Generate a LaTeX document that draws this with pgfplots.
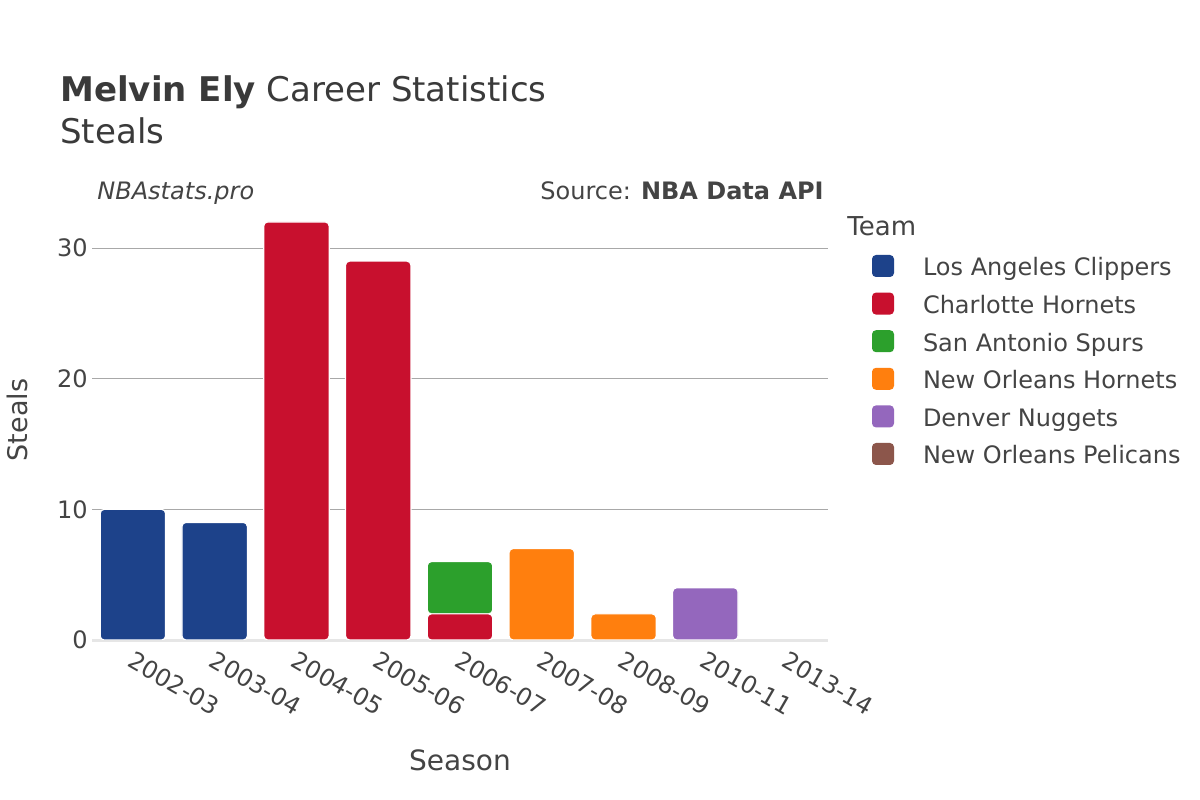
\documentclass[border=0pt]{standalone}
\usepackage{fontspec}
\setmainfont{DejaVu Sans}
\usepackage{pgfplots}
\usepackage{pgfplotstable}
\pgfplotsset{compat=1.18}
\definecolor{lac}{HTML}{1D428A}
\definecolor{cha}{HTML}{C8102E}
\definecolor{sas}{HTML}{2CA02C}
\definecolor{noh}{HTML}{FF7F0E}
\definecolor{den}{HTML}{9467BD}
\definecolor{nop}{HTML}{8C564B}
\definecolor{txt}{HTML}{444444}
\definecolor{ttl}{HTML}{3A3A3A}
\definecolor{gridc}{HTML}{A8A8A8}
\definecolor{zeroc}{HTML}{E6E6E6}
\newcommand{\fs}[1]{\fontsize{#1}{#1}\selectfont}

\pgfplotstableread{
x lac cha sas noh den nop
0 10 0  0 0 0 0
1 9  0  0 0 0 0
2 0  32 0 0 0 0
3 0  29 0 0 0 0
4 0  2  4 0 0 0
5 0  0  0 7 0 0
6 0  0  0 2 0 0
7 0  0  0 0 4 0
8 0  0  0 0 0 0
}\steals

\pgfplotsset{
  swatch/.style={legend image code/.code={%
    \fill[##1, draw=none, rounded corners=2bp] (0bp,-3.5bp) rectangle (11bp,7.5bp);
    \path[draw=none, fill=none] (0bp,0bp) -- (25.5bp,0bp);}},
  bars/.style={fill=#1, draw=white, line width=0.6bp, rounded corners=2bp, swatch},
}

\begin{document}
\begin{tikzpicture}
\path[use as bounding box, fill=white] (0,0) rectangle (600bp,400bp);
\node[anchor=base west, text=ttl, inner sep=0pt] at (30bp,349.25bp) {\fs{17bp}\textbf{Melvin Ely} Career Statistics};
\node[anchor=base west, text=ttl, inner sep=0pt] at (30bp,328bp) {\fs{17bp}Steals};
\node[anchor=base west, text=txt, inner sep=0pt] at (48.5bp,300bp) {\fs{12bp}\itshape NBAstats.pro};
\node[anchor=base east, text=txt, inner sep=0pt] at (412bp,300bp) {\fs{12bp}Source: \textbf{NBA Data API}};
\node[anchor=base west, text=txt, inner sep=0pt] at (423.5bp,282bp) {\fs{13bp}Team};

\begin{axis}[
  at={(46bp,80bp)}, anchor=south west,
  scale only axis, width=368bp, height=220bp,
  xmin=-0.5, xmax=8.5, ymin=0, ymax=33.68, enlargelimits=false,
  ybar stacked, bar width=0.8,
  axis line style={draw=none},
  major tick length=0pt,
  xtick={0,...,8},
  xticklabels={2002-03,2003-04,2004-05,2005-06,2006-07,2007-08,2008-09,2010-11,2013-14},
  ytick={10,20,30},
  ymajorgrids, grid style={gridc, line width=0.5bp},
  extra y ticks={0},
  extra y tick style={grid style={zeroc, line width=1.5bp}},
  tick label style={text=txt, font=\fs{12bp}},
  /pgf/number format/assume math mode=true,
  xticklabel style={xshift=1bp, yshift=-5bp, rotate=-30, anchor=north west, inner sep=0pt},
  yticklabel style={anchor=east, inner sep=0pt, xshift=-2bp},
  xlabel={Season},
  xlabel style={at={(axis description cs:0.5,-0.2727)}, anchor=center, font=\fs{14bp}, text=txt},
  ylabel={Steals},
  ylabel style={at={(axis description cs:-0.1019,0.5)}, anchor=center, font=\fs{13.5bp}, text=txt},
  legend style={at={(axis description cs:1.0598,0.875)}, anchor=north west,
    draw=none, fill=none, inner sep=0pt, outer sep=0pt, row sep=5.3bp, column sep=0pt,
    font=\fs{12bp}, text=txt,
    nodes={inner sep=0pt, text height=9bp, text depth=3bp}},
  legend cell align=left,
]
\addplot[bars=lac] table[x=x,y=lac]{\steals};
\addlegendentry{Los Angeles Clippers}
\addplot[bars=cha] table[x=x,y=cha]{\steals};
\addlegendentry{Charlotte Hornets}
\addplot[bars=sas] table[x=x,y=sas]{\steals};
\addlegendentry{San Antonio Spurs}
\addplot[bars=noh] table[x=x,y=noh]{\steals};
\addlegendentry{New Orleans Hornets}
\addplot[bars=den] table[x=x,y=den]{\steals};
\addlegendentry{Denver Nuggets}
\addplot[bars=nop] table[x=x,y=nop]{\steals};
\addlegendentry{New Orleans Pelicans}
\end{axis}
\end{tikzpicture}
\end{document}
